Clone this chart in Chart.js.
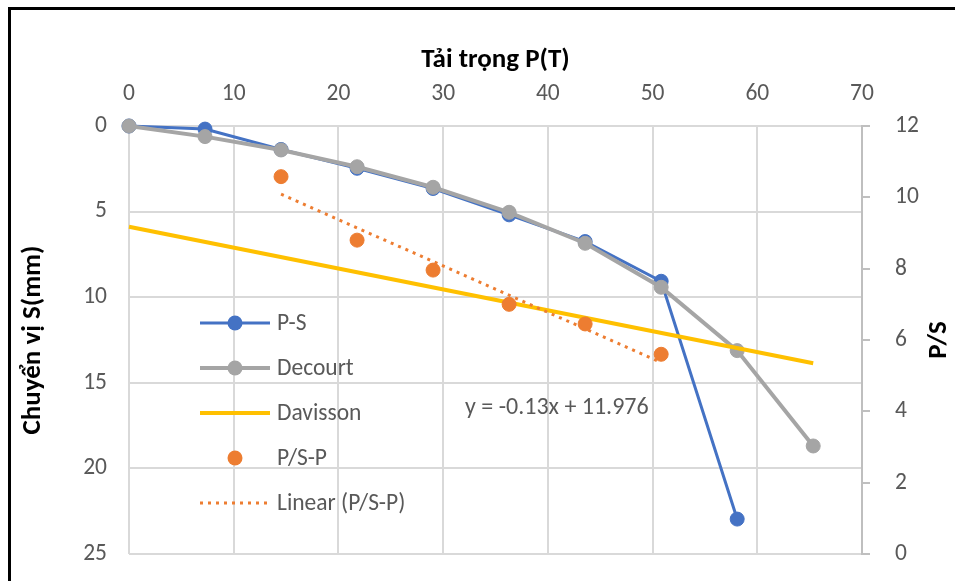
<!DOCTYPE html>
<html><head><meta charset="utf-8">
<script src="https://cdn.jsdelivr.net/npm/chart.js@4/dist/chart.umd.min.js"></script>
<style>html,body{margin:0;padding:0;background:#fff;} canvas{display:block}</style>
</head><body>
<canvas id="c" width="955" height="581"></canvas>
<script>
// ---- data ----
const loadP = [0, 7.26, 14.52, 21.78, 29.04, 36.3, 43.56, 50.82, 58.08, 65.34];
const settlementPS = [0, 0.18, 1.37, 2.47, 3.65, 5.19, 6.75, 9.07, 22.96];
const settlementDecourt = [0, 0.62, 1.4, 2.38, 3.58, 5.04, 6.85, 9.42, 13.12, 18.69];
const ratioLoads = [14.52, 21.78, 29.04, 36.3, 43.56, 50.82];
const ratioPS = [10.58, 8.80, 7.96, 7.00, 6.45, 5.60];
const davissonP = [0, 65.34];
const davissonS = [5.88, 13.86];
const trendSlope = -0.13;
const trendIntercept = 11.976;
const trendRange = [14.52, 50.82];
const xTicks = [0, 10, 20, 30, 40, 50, 60, 70];
const leftTicks = [0, 5, 10, 15, 20, 25];
const rightTicks = [0, 2, 4, 6, 8, 10, 12];
const seriesNames = ['P-S', 'Decourt', 'Davisson', 'P/S-P', 'Linear (P/S-P)'];
const xTitle = 'Tải trọng P(T)';
const yTitle = 'Chuyển vị S(mm)';
const y2Title = 'P/S';

const FONT = 'Carlito, Lato, "Liberation Sans", sans-serif';
const TXT = '#595959';
const GRID = '#d9d9d9';
const C = { blue: '#4472C4', grey: '#A5A5A5', gold: '#FFC000', orange: '#ED7D31' };
const BODY = 23.5;
const HEAD = 27;

const pts = (xs, ys) => ys.map((y, i) => ({ x: xs[i], y }));
const trendPts = trendRange.map(x => ({ x, y: trendSlope * x + trendIntercept }));

const setTicks = arr => s => { s.ticks = arr.map(v => ({ value: v })); };
const fitWidth = w => s => { s.width = w; s.paddingTop = 0; s.paddingBottom = 0; };

const decor = {
  id: 'decor',
  beforeDraw(chart) {
    const ctx = chart.ctx;
    ctx.save();
    ctx.fillStyle = '#fff';
    ctx.fillRect(0, 0, chart.width, chart.height);
    ctx.restore();
  },
  afterDraw(chart) {
    const ctx = chart.ctx;
    ctx.save();
    // outer border
    ctx.fillStyle = '#000';
    ctx.fillRect(8, 7, 3, chart.height - 7);
    ctx.fillRect(8, 7, chart.width - 8, 3);
    // right axis title (rotated bottom-to-top)
    ctx.fillStyle = '#000';
    ctx.font = 'bold ' + HEAD + 'px ' + FONT;
    ctx.textAlign = 'center';
    ctx.textBaseline = 'middle';
    ctx.translate(939, (chart.chartArea.top + chart.chartArea.bottom) / 2);
    ctx.rotate(-Math.PI / 2);
    ctx.fillText(y2Title, 0, 0);
    ctx.restore();

    // legend
    ctx.save();
    const ds = chart.data.datasets;
    const x0 = 200, x1 = 270, cx = 235, tx = 277;
    ds.forEach((d, i) => {
      const y = 323 + i * 45;
      if (d.showLine) {
        ctx.beginPath();
        ctx.strokeStyle = d.borderColor;
        ctx.lineWidth = d.borderWidth;
        ctx.setLineDash(d.borderDash || []);
        ctx.moveTo(x0, y); ctx.lineTo(x1, y);
        ctx.stroke();
        ctx.setLineDash([]);
      }
      if (d.pointRadius > 0) {
        ctx.beginPath();
        ctx.fillStyle = d.pointBackgroundColor;
        ctx.arc(cx, y, d.pointRadius + 0.5, 0, Math.PI * 2);
        ctx.fill();
      }
      ctx.fillStyle = TXT;
      ctx.font = BODY + 'px ' + FONT;
      ctx.textAlign = 'left';
      ctx.textBaseline = 'middle';
      ctx.fillText(d.label, tx, y + 1);
    });
    // trendline equation
    ctx.font = '24px ' + FONT;
    ctx.fillText('y = ' + trendSlope + 'x + ' + trendIntercept, 465, 408);
    ctx.restore();
  }
};

new Chart(document.getElementById('c'), {
  type: 'scatter',
  data: {
    datasets: [
      { label: seriesNames[0], data: pts(loadP, settlementPS), yAxisID: 'y', showLine: true,
        borderColor: C.blue, backgroundColor: C.blue, borderWidth: 3, pointRadius: 7, pointBorderWidth: 1,
        pointBackgroundColor: C.blue, pointBorderColor: C.blue, order: 5, clip: false },
      { label: seriesNames[1], data: pts(loadP, settlementDecourt), yAxisID: 'y', showLine: true,
        borderColor: C.grey, backgroundColor: C.grey, borderWidth: 4, pointRadius: 7, pointBorderWidth: 1,
        pointBackgroundColor: C.grey, pointBorderColor: C.grey, order: 4, clip: false },
      { label: seriesNames[2], data: pts(davissonP, davissonS), yAxisID: 'y', showLine: true,
        borderColor: C.gold, backgroundColor: C.gold, borderWidth: 4, pointRadius: 0, order: 3, clip: false },
      { label: seriesNames[3], data: pts(ratioLoads, ratioPS), yAxisID: 'y2', showLine: false,
        borderColor: C.orange, backgroundColor: C.orange, pointRadius: 7, pointBorderWidth: 1,
        pointBackgroundColor: C.orange, pointBorderColor: C.orange, order: 2, clip: false },
      { label: seriesNames[4], data: trendPts, yAxisID: 'y2', showLine: true,
        borderColor: C.orange, backgroundColor: C.orange, borderWidth: 3, borderDash: [3, 5],
        pointRadius: 0, order: 1, clip: false }
    ]
  },
  options: {
    responsive: false,
    animation: false,
    events: [],
    layout: { padding: { left: 0, right: 0, top: 0, bottom: 27 } },
    plugins: { legend: { display: false }, tooltip: { enabled: false } },
    scales: {
      x: {
        type: 'linear', position: 'top', min: 0, max: 70,
        afterBuildTicks: setTicks(xTicks),
        afterFit: s => { s.height = 126; s.paddingLeft = 0; s.paddingRight = 0; },
        ticks: { color: TXT, font: { family: FONT, size: BODY }, padding: 18, maxRotation: 0 },
        grid: { color: GRID, lineWidth: 2, drawTicks: false },
        border: { display: false },
        title: { display: true, text: xTitle, color: '#000', font: { family: FONT, size: HEAD, weight: 'bold' },
                 padding: { top: 44, bottom: 0 } }
      },
      y: {
        type: 'linear', position: 'left', reverse: true, min: 0, max: 25,
        afterBuildTicks: setTicks(leftTicks),
        afterFit: fitWidth(129),
        ticks: { color: TXT, font: { family: FONT, size: BODY }, padding: 22 },
        grid: { color: GRID, lineWidth: 2, drawTicks: false },
        border: { display: false },
        title: { display: true, text: yTitle, color: '#000', font: { family: FONT, size: HEAD, weight: 'bold' },
                 padding: { top: 17, bottom: 0 } }
      },
      y2: {
        type: 'linear', position: 'right', min: 0, max: 12,
        afterBuildTicks: setTicks(rightTicks),
        afterFit: fitWidth(93),
        ticks: { color: TXT, font: { family: FONT, size: BODY }, padding: 25 },
        grid: { drawOnChartArea: false, drawTicks: true, tickLength: 8, color: '#bfbfbf', lineWidth: 2 },
        border: { display: true, color: '#bfbfbf', width: 2 }
      }
    }
  },
  plugins: [decor]
});
</script>
</body></html>
